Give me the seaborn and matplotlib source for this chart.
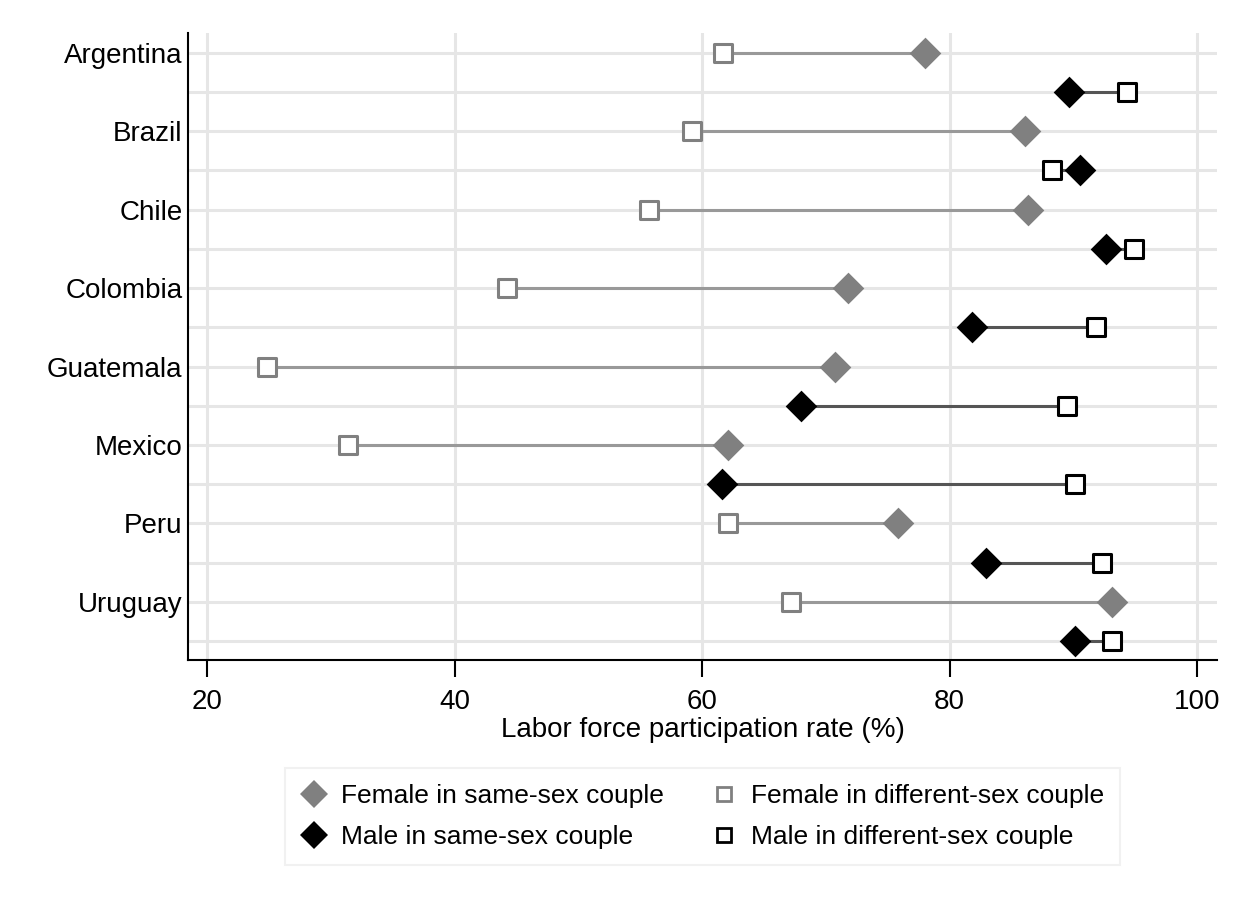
import matplotlib
matplotlib.use("Agg")
import matplotlib.pyplot as plt
import seaborn as sns
import pandas as pd
import numpy as np
from matplotlib.lines import Line2D

countries = ["Argentina", "Brazil", "Chile", "Colombia", "Guatemala", "Mexico", "Peru", "Uruguay"]
female_same = [78.0, 86.1, 86.3, 71.8, 70.7, 62.1, 75.8, 93.1]
female_diff = [61.7, 59.2, 55.7, 44.2, 24.8, 31.4, 62.1, 67.2]
male_same = [89.6, 90.5, 92.6, 81.8, 68.0, 61.6, 82.9, 90.1]
male_diff = [94.3, 88.3, 94.9, 91.8, 89.5, 90.1, 92.3, 93.1]

xticks = [20, 40, 60, 80, 100]

sns.set_theme(style="whitegrid")
plt.rcParams['font.family'] = ['Liberation Sans', 'DejaVu Sans']
plt.rcParams['text.color'] = 'black'
plt.rcParams['axes.labelcolor'] = 'black'
plt.rcParams['xtick.color'] = 'black'
plt.rcParams['ytick.color'] = 'black'

n = len(countries)
yf = np.arange(n) * 2
ym = yf + 1

fig = plt.figure(figsize=(12.48, 9.07), dpi=100)
ax = fig.add_axes([0.1506, 0.2723, 0.8246, 0.6913])

# connecting lines
ax.hlines(yf, female_diff, female_same, color="#999999", lw=2.2, zorder=2)
ax.hlines(ym, male_same, male_diff, color="#555555", lw=2.2, zorder=2)

df_fs = pd.DataFrame({"x": female_same, "y": yf})
df_fd = pd.DataFrame({"x": female_diff, "y": yf})
df_ms = pd.DataFrame({"x": male_same, "y": ym})
df_md = pd.DataFrame({"x": male_diff, "y": ym})

sns.scatterplot(data=df_fs, x="x", y="y", ax=ax, marker="D", s=260, color="#808080",
                edgecolor="#808080", linewidth=0, zorder=3)
sns.scatterplot(data=df_fd, x="x", y="y", ax=ax, marker="s", s=150, facecolor="white",
                edgecolor="#808080", linewidth=2.2, zorder=3)
sns.scatterplot(data=df_ms, x="x", y="y", ax=ax, marker="D", s=260, color="black",
                edgecolor="black", linewidth=0, zorder=3)
sns.scatterplot(data=df_md, x="x", y="y", ax=ax, marker="s", s=150, facecolor="white",
                edgecolor="black", linewidth=2.2, zorder=3)

ax.set_xlim(18.45, 101.6)
ax.set_ylim(15.48, -0.5)
ax.set_xticks(xticks)
ax.set_xticklabels([str(t) for t in xticks], fontsize=20)
ax.set_yticks(np.arange(2 * n))
ax.set_yticklabels([c if i % 2 == 0 else "" for i, c in
                    enumerate([countries[k // 2] for k in range(2 * n)])], fontsize=20)
ax.tick_params(axis="y", length=0, pad=4)
ax.tick_params(axis="x", length=12, width=1.5, color="black", pad=9, bottom=True)
ax.set_xlabel("Labor force participation rate (%)", fontsize=20, labelpad=1)
ax.set_ylabel("")

ax.set_facecolor("white")
ax.grid(True, color="#e6e6e6", lw=2.2)
for s in ["top", "right"]:
    ax.spines[s].set_visible(False)
for s in ["left", "bottom"]:
    ax.spines[s].set_visible(True)
    ax.spines[s].set_color("black")
    ax.spines[s].set_linewidth(1.5)

handles = [
    Line2D([], [], marker="D", ls="", color="#808080", markersize=14, markeredgewidth=0),
    Line2D([], [], marker="D", ls="", color="black", markersize=14, markeredgewidth=0),
    Line2D([], [], marker="s", ls="", markerfacecolor="white", markeredgecolor="#808080",
           markersize=10, markeredgewidth=2),
    Line2D([], [], marker="s", ls="", markerfacecolor="white", markeredgecolor="black",
           markersize=10, markeredgewidth=2),
]
labels = ["Female in same-sex couple", "Male in same-sex couple",
          "Female in different-sex couple", "Male in different-sex couple"]
leg = fig.legend(handles, labels, ncol=2, loc="upper center", bbox_to_anchor=(0.563, 0.1532),
                 fontsize=19, frameon=True, fancybox=False, edgecolor="#eeeeee",
                 handletextpad=0.5, columnspacing=1.8, labelspacing=0.65,
                 borderpad=0.6, handlelength=1.0, borderaxespad=0)
leg.get_frame().set_linewidth(1.5)

fig.savefig("out.png", dpi=100, facecolor="white")
